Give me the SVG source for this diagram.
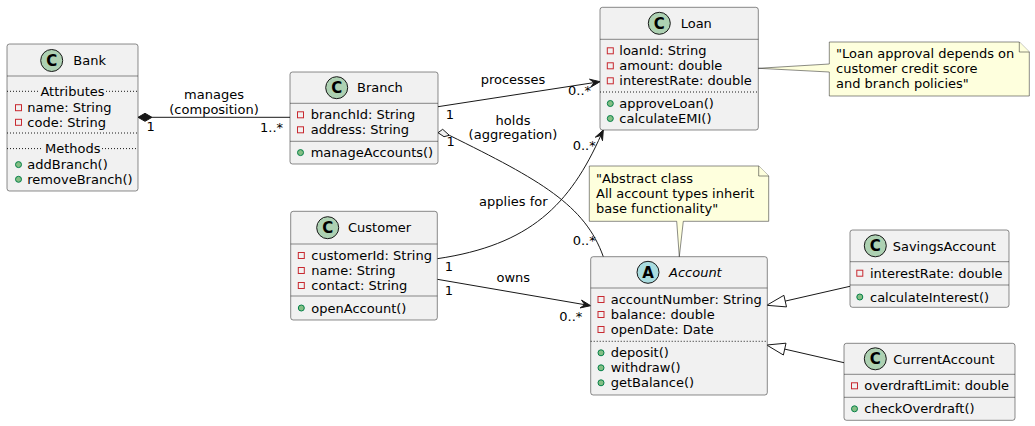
<svg xmlns="http://www.w3.org/2000/svg" width="1035" height="426" viewBox="0 0 1035 426">
<style>
text{font-family:"DejaVu Sans","Liberation Sans",sans-serif;font-size:13px;fill:#000}
.box{fill:#F1F1F1;stroke:#181818;stroke-width:0.5}
.sep{stroke:#181818;stroke-width:0.5}
.dot{stroke:#181818;stroke-width:1;stroke-dasharray:1,2}
.ci{fill:#ADD1B2;stroke:#181818;stroke-width:1}
.ca{fill:#A9DCDF;stroke:#181818;stroke-width:1}
.glyph{font-size:15px;font-weight:bold;text-anchor:middle}
.priv{fill:none;stroke:#C82930;stroke-width:1}
.pub{fill:#84BE84;stroke:#038048;stroke-width:1}
.mid{text-anchor:middle}
.line{fill:none;stroke:#181818;stroke-width:1}
.head{fill:#181818;stroke:#181818;stroke-width:1}
.tri{fill:none;stroke:#181818;stroke-width:1}
.note{fill:#FEFFDD;stroke:#181818;stroke-width:0.5}
</style>
<defs>
<rect id="pv" x="-3" y="-3" width="6" height="6" class="priv"/>
<circle id="pb" r="3" class="pub"/>
</defs>

<g id="connectors">
  <!-- Bank composition Branch -->
  <line class="line" x1="152" y1="117.3" x2="290" y2="117.3"/>
  <polygon class="head" points="138,117.3 145,113.3 152,117.3 145,121.3"/>
  <text class="mid" x="214" y="98.8">manages</text>
  <text class="mid" x="214" y="114">(composition)</text>
  <text class="mid" x="150.7" y="131.4">1</text>
  <text x="260" y="131.5">1..*</text>

  <!-- Branch processes Loan -->
  <line class="line" x1="438" y1="106.7" x2="596" y2="82.3"/>
  <polygon class="head" points="600,81.7 590.7,87.2 594.1,82.6 589.5,79.2"/>
  <text class="mid" x="513" y="83.8">processes</text>
  <text class="mid" x="450" y="118.7">1</text>
  <text x="568" y="95">0..*</text>

  <!-- Branch aggregation Account -->
  <path class="line" d="M449.3,135.3 C540,180 585,205 603.3,256.7"/>
  <polygon points="438,132.7 442.7,129.3 449.3,135.3 444,136.7" style="fill:#F1F1F1;stroke:#181818;stroke-width:1"/>
  <text class="mid" x="513" y="124.5">holds</text>
  <text class="mid" x="513" y="139">(aggregation)</text>
  <text class="mid" x="450.7" y="145.7">1</text>
  <text x="572.7" y="244.5">0..*</text>

  <!-- Customer applies for Loan -->
  <path class="line" d="M437.3,258.7 C530,245 570,205 601.5,134"/>
  <polygon class="head" points="603.3,130 602.5,140.7 600.7,135.4 595.3,137.2"/>
  <text class="mid" x="513.3" y="206">applies for</text>
  <text class="mid" x="449" y="271.4">1</text>
  <text x="572.7" y="149.7">0..*</text>

  <!-- Customer owns Account -->
  <line class="line" x1="437.3" y1="279.3" x2="586" y2="304.9"/>
  <polygon class="head" points="590.7,305.7 580.1,307.9 584.8,304.7 581.5,300.1"/>
  <text class="mid" x="513.3" y="282">owns</text>
  <text class="mid" x="449" y="294.7">1</text>
  <text x="559.3" y="320.5">0..*</text>

  <!-- inheritance -->
  <line class="line" x1="850" y1="286.3" x2="785.2" y2="301.1"/>
  <polygon class="tri" points="766.7,305.3 786.5,306.9 783.9,295.3"/>
  <line class="line" x1="844" y1="362.7" x2="784.7" y2="349.1"/>
  <polygon class="tri" points="766.7,345 786,343.2 783.4,355"/>
</g>

<g id="Bank">
  <rect class="box" x="7" y="44" width="131" height="147" rx="2.5"/>
  <line class="sep" x1="7" y1="76" x2="138" y2="76"/>
  <circle class="ci" cx="51.7" cy="60.5" r="11"/>
  <text class="glyph" x="51.7" y="65.8">C</text>
  <text x="73.3" y="65">Bank</text>
  <line class="dot" x1="7" y1="91.3" x2="39" y2="91.3"/>
  <line class="dot" x1="106" y1="91.3" x2="138" y2="91.3"/>
  <text class="mid" x="72.5" y="96">Attributes</text>
  <use href="#pv" x="18.5" y="107.7"/>
  <text x="27.3" y="112.2">name: String</text>
  <use href="#pv" x="18.5" y="122.3"/>
  <text x="27.3" y="126.8">code: String</text>
  <line class="dot" x1="7" y1="133" x2="138" y2="133"/>
  <line class="dot" x1="7" y1="148.6" x2="43" y2="148.6"/>
  <line class="dot" x1="102" y1="148.6" x2="138" y2="148.6"/>
  <text class="mid" x="72.8" y="153.2">Methods</text>
  <use href="#pb" x="18.5" y="164.6"/>
  <text x="27.3" y="169.1">addBranch()</text>
  <use href="#pb" x="18.5" y="179.3"/>
  <text x="27.3" y="183.8">removeBranch()</text>
</g>

<g id="Branch">
  <rect class="box" x="290" y="72" width="148" height="92" rx="2.5"/>
  <line class="sep" x1="290" y1="103.3" x2="438" y2="103.3"/>
  <circle class="ci" cx="336.7" cy="87.7" r="11"/>
  <text class="glyph" x="336.7" y="93">C</text>
  <text x="357" y="92.4">Branch</text>
  <use href="#pv" x="300.5" y="114.8"/>
  <text x="310.7" y="119.3">branchId: String</text>
  <use href="#pv" x="300.5" y="129.8"/>
  <text x="310.7" y="134.3">address: String</text>
  <line class="sep" x1="290" y1="141.3" x2="438" y2="141.3"/>
  <use href="#pb" x="300.5" y="152.6"/>
  <text x="310.7" y="157.1">manageAccounts()</text>
</g>

<g id="Loan">
  <rect class="box" x="600" y="7.3" width="158.3" height="122.7" rx="2.5"/>
  <line class="sep" x1="600" y1="39.3" x2="758.3" y2="39.3"/>
  <circle class="ci" cx="659.3" cy="23.3" r="11"/>
  <text class="glyph" x="659.3" y="28.6">C</text>
  <text x="680.7" y="28">Loan</text>
  <use href="#pv" x="610.3" y="50.8"/>
  <text x="619.3" y="55.3">loanId: String</text>
  <use href="#pv" x="610.3" y="65.8"/>
  <text x="619.3" y="70.3">amount: double</text>
  <use href="#pv" x="610.3" y="80.8"/>
  <text x="619.3" y="85.3">interestRate: double</text>
  <line class="dot" x1="600" y1="92" x2="758.3" y2="92"/>
  <use href="#pb" x="610.3" y="103.5"/>
  <text x="619.3" y="108">approveLoan()</text>
  <use href="#pb" x="610.3" y="118.5"/>
  <text x="619.3" y="123">calculateEMI()</text>
</g>

<g id="Customer">
  <rect class="box" x="290.7" y="211.3" width="146.6" height="108.7" rx="2.5"/>
  <line class="sep" x1="290.7" y1="244" x2="437.3" y2="244"/>
  <circle class="ci" cx="327.7" cy="227.7" r="11"/>
  <text class="glyph" x="327.7" y="233">C</text>
  <text x="348" y="232.4">Customer</text>
  <use href="#pv" x="301.3" y="255.5"/>
  <text x="311.3" y="260">customerId: String</text>
  <use href="#pv" x="301.3" y="270.5"/>
  <text x="311.3" y="275">name: String</text>
  <use href="#pv" x="301.3" y="285.5"/>
  <text x="311.3" y="290">contact: String</text>
  <line class="sep" x1="290.7" y1="296" x2="437.3" y2="296"/>
  <use href="#pb" x="301.3" y="308"/>
  <text x="311.3" y="312.5">openAccount()</text>
</g>

<g id="Account">
  <rect class="box" x="590.7" y="256.7" width="176.6" height="138.3" rx="2.5"/>
  <line class="sep" x1="590.7" y1="288" x2="767.3" y2="288"/>
  <circle class="ca" cx="648" cy="272.3" r="11"/>
  <text class="glyph" x="648" y="277.6">A</text>
  <text x="669" y="277" font-style="italic">Account</text>
  <use href="#pv" x="601" y="299.5"/>
  <text x="610.7" y="304">accountNumber: String</text>
  <use href="#pv" x="601" y="314.5"/>
  <text x="610.7" y="319">balance: double</text>
  <use href="#pv" x="601" y="329.5"/>
  <text x="610.7" y="334">openDate: Date</text>
  <line class="dot" x1="590.7" y1="341.3" x2="767.3" y2="341.3"/>
  <use href="#pb" x="601" y="352.8"/>
  <text x="610.7" y="357.3">deposit()</text>
  <use href="#pb" x="601" y="367.8"/>
  <text x="610.7" y="372.3">withdraw()</text>
  <use href="#pb" x="601" y="382.8"/>
  <text x="610.7" y="387.3">getBalance()</text>
</g>

<g id="SavingsAccount">
  <rect class="box" x="850" y="230" width="159" height="77.3" rx="2.5"/>
  <line class="sep" x1="850" y1="261.7" x2="1009" y2="261.7"/>
  <circle class="ci" cx="875.3" cy="245.8" r="11"/>
  <text class="glyph" x="875.3" y="251.1">C</text>
  <text x="892.7" y="250.5">SavingsAccount</text>
  <use href="#pv" x="859.8" y="273.2"/>
  <text x="870" y="277.7">interestRate: double</text>
  <line class="sep" x1="850" y1="285" x2="1009" y2="285"/>
  <use href="#pb" x="859.8" y="297"/>
  <text x="870" y="301.5">calculateInterest()</text>
</g>

<g id="CurrentAccount">
  <rect class="box" x="844" y="343.3" width="171" height="77" rx="2.5"/>
  <line class="sep" x1="844" y1="374.3" x2="1015" y2="374.3"/>
  <circle class="ci" cx="875.3" cy="358.8" r="11"/>
  <text class="glyph" x="875.3" y="364.1">C</text>
  <text x="893.3" y="363.5">CurrentAccount</text>
  <use href="#pv" x="854.5" y="385.8"/>
  <text x="864.3" y="390.3">overdraftLimit: double</text>
  <line class="sep" x1="844" y1="397.3" x2="1015" y2="397.3"/>
  <use href="#pb" x="854.5" y="408.8"/>
  <text x="864.3" y="413.3">checkOverdraft()</text>
</g>

<g id="LoanNote">
  <path class="note" d="M829.3,42 L1019.3,42 L1029.3,52 L1029.3,96 L829.3,96 L829.3,72 L758.3,68.3 L829.3,64 Z"/>
  <path class="note" d="M1019.3,42 L1019.3,52 L1029.3,52"/>
  <text x="836" y="57.8">"Loan approval depends on</text>
  <text x="836" y="72.8">customer credit score</text>
  <text x="836" y="87.8">and branch policies"</text>
</g>

<g id="AccountNote">
  <path class="note" d="M589.3,166 L758.7,166 L768.7,176 L768.7,221.3 L683.3,221.3 L679.3,256.7 L676.7,221.3 L589.3,221.3 Z"/>
  <path class="note" d="M758.7,166 L758.7,176 L768.7,176"/>
  <text x="596" y="182.5">"Abstract class</text>
  <text x="596" y="197.8">All account types inherit</text>
  <text x="596" y="213.1">base functionality"</text>
</g>
</svg>
